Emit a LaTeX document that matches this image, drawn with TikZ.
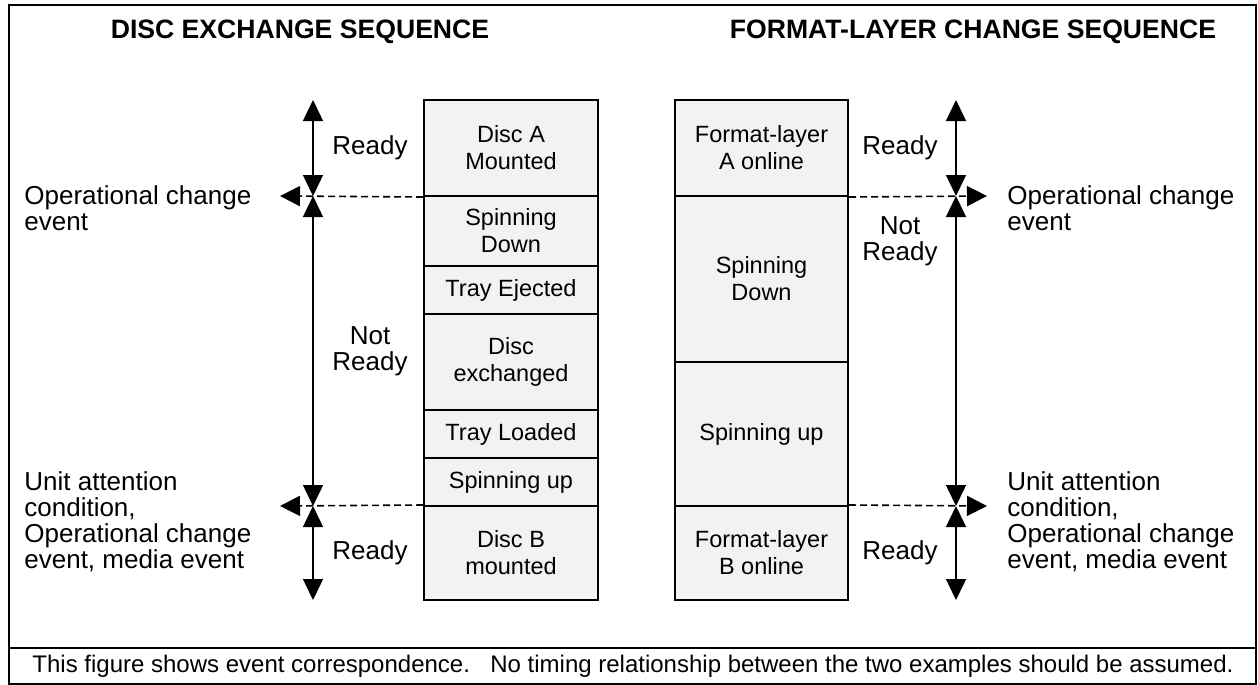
\documentclass[tikz,border=0pt]{standalone}
\usepackage{fontspec}
\setmainfont{Liberation Sans}
\usetikzlibrary{arrows.meta}
\definecolor{boxgray}{HTML}{F2F2F2}
\begin{document}
\begin{tikzpicture}[x=0.5pt,y=-0.5pt,
  stage/.style={draw, line width=1pt, fill=boxgray, inner sep=0pt, align=center,
    font=\fontsize{11.75}{13.5}\selectfont},
  lstage/.style={stage, minimum width=87pt},
  rstage/.style={stage, minimum width=86.5pt},
  lbl/.style={align=center, inner sep=0pt, font=\fontsize{13}{13}\selectfont},
  side/.style={align=left, inner sep=0pt, anchor=north west, font=\fontsize{13}{13}\selectfont},
  span/.style={line width=0.75pt, {Triangle[length=10.5pt,width=10pt]}-{Triangle[length=10.5pt,width=10pt]}},
  evt/.style={line width=0.8pt, dash pattern=on 3.5pt off 2pt, -{Triangle[length=10pt,width=10pt]}},
  ttl/.style={font=\fontsize{13.3}{16}\selectfont\bfseries, inner sep=0pt}]
\useasboundingbox (0,0) rectangle (1258,685);
% frame
\draw[line width=1pt] (9,5) rectangle (1256,684);
\draw[line width=1pt] (9,648) -- (1256,648);
% titles
\node[ttl] (t1) at (300,32) {DISC EXCHANGE SEQUENCE};
\node[ttl] (t2) at (973,32) {FORMAT-LAYER CHANGE SEQUENCE};
% left column
\node[lstage, minimum height=48pt] (a1) at (511,148) {Disc A\\Mounted};
\node[lstage, minimum height=35pt] (a2) at (511,231) {Spinning\\Down};
\node[lstage, minimum height=24pt] (a3) at (511,290) {Tray Ejected};
\node[lstage, minimum height=48pt] (a4) at (511,362) {Disc\\exchanged};
\node[lstage, minimum height=24pt] (a5) at (511,434) {Tray Loaded};
\node[lstage, minimum height=24pt] (a6) at (511,482) {Spinning up};
\node[lstage, minimum height=47pt] (a7) at (511,553) {Disc B\\mounted};
% right column
\node[rstage, minimum height=48pt] (b1) at (761.5,148) {Format-layer\\A online};
\node[rstage, minimum height=83pt] (b2) at (761.5,279) {Spinning\\Down};
\node[rstage, minimum height=72pt] (b3) at (761.5,434) {Spinning up};
\node[rstage, minimum height=47pt] (b4) at (761.5,553) {Format-layer\\B online};
% left arrows
\coordinate (la0) at (313,100);
\coordinate (la1) at (313,196);
\coordinate (la2) at (313,506);
\coordinate (la3) at (313,600);
\draw[span] (la0) -- (la1);
\draw[span] (la1) -- (la2);
\draw[span] (la2) -- (la3);
\coordinate (le1) at (280,196);
\coordinate (le2) at (280,506);
\draw[evt] (a1.south west) -- (le1);
\draw[evt] (a7.north west) -- (le2);
% right arrows
\coordinate (ra0) at (956,100);
\coordinate (ra1) at (956,196);
\coordinate (ra2) at (956,506);
\coordinate (ra3) at (956,600);
\draw[span] (ra0) -- (ra1);
\draw[span] (ra1) -- (ra2);
\draw[span] (ra2) -- (ra3);
\coordinate (re1) at (987,196);
\coordinate (re2) at (987,506);
\draw[evt] (b1.south east) -- (re1);
\draw[evt] (b4.north east) -- (re2);
% labels
\node[lbl] (lr1) at (370,148) {Ready};
\node[lbl] (lnr) at (370,351) {Not\\Ready};
\node[lbl] (lr2) at (370,553) {Ready};
\node[lbl] (rr1) at (900,148) {Ready};
\node[lbl] (rnr) at (900,241) {Not\\Ready};
\node[lbl] (rr2) at (900,553) {Ready};
% side texts
\node[side] (lt1) at (24,185) {Operational change\\event};
\node[side] (lt2) at (24,471) {Unit attention\\condition,\\Operational change\\event, media event};
\node[side] (rt1) at (1007,185) {Operational change\\event};
\node[side] (rt2) at (1007,471) {Unit attention\\condition,\\Operational change\\event, media event};
% note
\node[font=\fontsize{12}{14}\selectfont, inner sep=0pt] (note) at (633,666) {This figure shows event correspondence.\hspace{0.85em}No timing relationship between the two examples should be assumed.};
\end{tikzpicture}
\end{document}
